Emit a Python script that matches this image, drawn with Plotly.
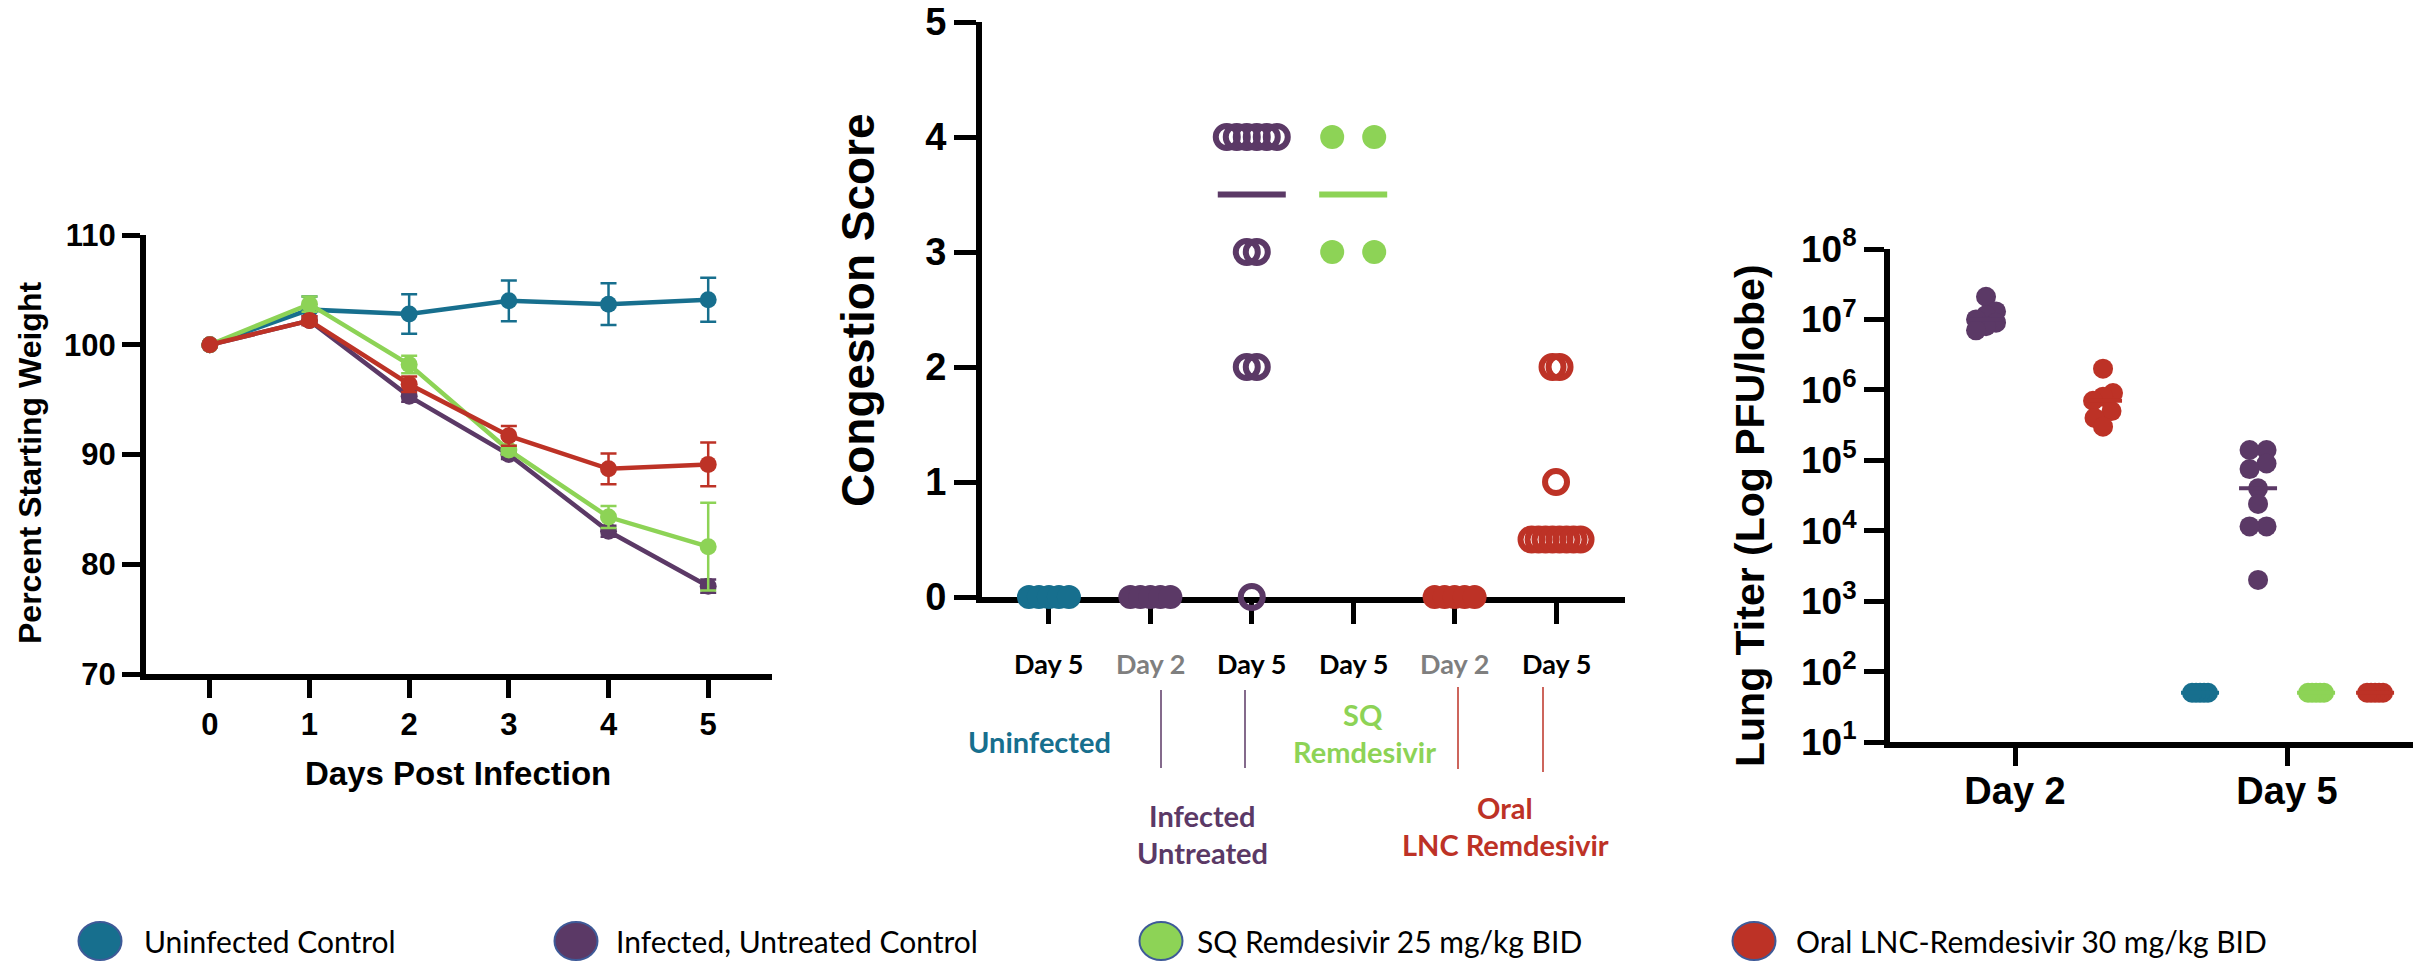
import math
import numpy as np
import plotly.graph_objects as go

W, H = 2431, 963

# ------------------------------------------------------------------ DATA
days = [0, 1, 2, 3, 4, 5]
weight_uninfected = [100, 103.2, 102.8, 104.0, 103.7, 104.1]
weight_uninfected_err = [0, 1.2, 1.8, 1.85, 1.9, 2.0]
weight_infected = [100, 102.2, 95.3, 90.0, 83.0, 78.0]
weight_infected_err = [0, 0.4, 0.5, 0.4, 0.5, 0.6]
weight_sq = [100, 103.7, 98.2, 90.4, 84.3, 81.6]
weight_sq_err = [0, 0.7, 0.8, 0.4, 1.0, 4.0]
weight_oral = [100, 102.2, 96.4, 91.7, 88.7, 89.1]
weight_oral_err = [0, 0.4, 0.7, 0.9, 1.4, 2.0]

weight_ticks = [70, 80, 90, 100, 110]

congestion_day_labels = ["Day 5", "Day 2", "Day 5", "Day 5", "Day 2", "Day 5"]
congestion_group_of_column = ["uninf", "inf", "inf", "sq", "oral", "oral"]
congestion_scores = [
    [0, 0, 0, 0, 0],
    [0, 0, 0, 0, 0],
    [4, 4, 4, 4, 4, 4, 3, 3, 2, 2, 0],
    [4, 4, 3, 3],
    [0, 0, 0, 0, 0],
    [2, 2, 1, 0.5, 0.5, 0.5, 0.5, 0.5, 0.5, 0.5, 0.5],
]
congestion_lines = [None, None, 3.5, 3.5, None, None]
congestion_ticks = [0, 1, 2, 3, 4, 5]

titer_days = ["Day 2", "Day 5"]
titer_uninfected_d5 = [50, 50, 50, 50, 50]
titer_infected_d2 = [2.1e7, 1.3e7, 1.15e7, 1.0e7, 9e6, 8e6, 7e6]
titer_infected_d5 = [1.4e5, 1.4e5, 9e4, 7.5e4, 4e4, 2.4e4, 1.15e4, 1.15e4, 2e3]
titer_sq_d5 = [50, 50, 50, 50, 50]
titer_oral_d2 = [2e6, 9e5, 8e5, 7e5, 5e5, 4e5, 3e5]
titer_oral_d5 = [50, 50, 50, 50, 50]
titer_exponents = [1, 2, 3, 4, 5, 6, 7, 8]

legend_labels = ["Uninfected Control", "Infected, Untreated Control",
                 "SQ Remdesivir 25 mg/kg BID", "Oral LNC-Remdesivir 30 mg/kg BID"]

# ------------------------------------------------------------------ STYLE
C = {"uninf": "#176F8E", "inf": "#5B3966", "sq": "#8DD356", "oral": "#BD3226"}
GRAY = "#7F7F7F"
AX_FONT = "Liberation Sans, Arial, sans-serif"
LBL_FONT = "Lato, Carlito, Calibri, sans-serif"


def px(x):
    return x / W


def py(y):
    return 1 - y / H


fig = go.Figure()

# ------------------------------------------------------------------ PANEL 1
for key, vals, err in [("uninf", weight_uninfected, weight_uninfected_err),
                       ("inf", weight_infected, weight_infected_err),
                       ("sq", weight_sq, weight_sq_err),
                       ("oral", weight_oral, weight_oral_err)]:
    fig.add_trace(go.Scatter(
        x=days, y=vals, mode="lines+markers", xaxis="x", yaxis="y",
        line=dict(color=C[key], width=4.5),
        marker=dict(color=C[key], size=17),
        error_y=dict(type="data", array=err, color=C[key], thickness=2.5, width=8),
        showlegend=False, cliponaxis=False))

# ------------------------------------------------------------------ PANEL 2
UNIT2 = 101.4  # px per category
gap2 = [10, 10, 10, 42, 10, 7]


def spread_same(values, gap_px, unit_px):
    offs = [0.0] * len(values)
    groups = {}
    for i, v in enumerate(values):
        groups.setdefault(v, []).append(i)
    for v, idx in groups.items():
        n = len(idx)
        for k, i in enumerate(idx):
            offs[i] = (k - (n - 1) / 2) * gap_px / unit_px
    return offs


open_cols = {2, 5}
for ci, vals in enumerate(congestion_scores):
    key = congestion_group_of_column[ci]
    offs = spread_same(vals, gap2[ci], UNIT2)
    xs = [ci + o for o in offs]
    if ci in open_cols:
        marker = dict(symbol="circle-open", size=22, color=C[key],
                      line=dict(color=C[key], width=6))
    else:
        marker = dict(symbol="circle", size=24, color=C[key], line=dict(width=0))
    fig.add_trace(go.Scatter(x=xs, y=vals, mode="markers", xaxis="x2", yaxis="y2",
                             marker=marker, showlegend=False, cliponaxis=False))
    if congestion_lines[ci] is not None:
        hw = 34 / UNIT2
        fig.add_trace(go.Scatter(x=[ci - hw, ci + hw], y=[congestion_lines[ci]] * 2,
                                 mode="lines", xaxis="x2", yaxis="y2",
                                 line=dict(color=C[key], width=6),
                                 showlegend=False, cliponaxis=False))

# ------------------------------------------------------------------ PANEL 3
UNIT3 = 272.0
group_offset_px = {"uninf": -87, "inf": -29, "sq": 29, "oral": 88}


def swarm_rows(values, gap_fn, unit_px, tol=0.12):
    order = sorted(range(len(values)), key=lambda i: -values[i])
    rows = []
    for i in order:
        lv = math.log10(values[i])
        if rows and rows[-1][0] - lv <= tol:
            rows[-1][1].append(i)
        else:
            rows.append([lv, [i]])
    offs = [0.0] * len(values)
    for _, idx in rows:
        n = len(idx)
        g = gap_fn(n)
        for k, i in enumerate(idx):
            offs[i] = ((n - 1) / 2 - k) * g / unit_px
    return offs


def titer_gap(n):
    return 17 if n == 2 else 10


titer_sets = [
    (0, "inf", titer_infected_d2, titer_gap),
    (0, "oral", titer_oral_d2, titer_gap),
    (1, "uninf", titer_uninfected_d5, lambda n: 4),
    (1, "inf", titer_infected_d5, titer_gap),
    (1, "sq", titer_sq_d5, lambda n: 4),
    (1, "oral", titer_oral_d5, lambda n: 4),
]
for day_i, key, vals, gfn in titer_sets:
    center = day_i + group_offset_px[key] / UNIT3
    offs = swarm_rows(vals, gfn, UNIT3)
    fig.add_trace(go.Scatter(x=[center + o for o in offs], y=vals, mode="markers",
                             xaxis="x3", yaxis="y3",
                             marker=dict(color=C[key], size=20, line=dict(width=0)),
                             showlegend=False, cliponaxis=False))
    med = float(np.median(vals))
    hw = 19 / UNIT3
    fig.add_trace(go.Scatter(x=[center - hw, center + hw], y=[med, med], mode="lines",
                             xaxis="x3", yaxis="y3",
                             line=dict(color=C[key], width=4),
                             showlegend=False, cliponaxis=False))

# ------------------------------------------------------------------ AXES
axis_common = dict(showline=True, linecolor="black", linewidth=6, ticks="outside",
                   tickcolor="black", tickwidth=5, showgrid=False, zeroline=False,
                   fixedrange=True, automargin=False)
tickfont_bold = lambda s: dict(family=AX_FONT, size=s, color="black", weight="bold")

layout = dict(
    width=W, height=H, margin=dict(l=0, r=0, t=0, b=0, autoexpand=False), autosize=False,
    paper_bgcolor="white", plot_bgcolor="white", showlegend=False,
    # panel 1
    xaxis=dict(domain=[px(146), px(772)], range=[-0.64, 5.64], anchor="y",
               tickvals=days, ticklen=18, tickfont=tickfont_bold(31), **axis_common),
    yaxis=dict(domain=[py(674), py(235)], range=[70, 110], anchor="x",
               tickvals=weight_ticks, ticklen=18, tickfont=tickfont_bold(31), **axis_common),
    # panel 2
    xaxis2=dict(domain=[px(982), px(1625)], range=[-0.66, 5.68], anchor="y2",
                tickvals=list(range(6)), showticklabels=False, ticklen=21,
                layer="below traces", **axis_common),
    yaxis2=dict(domain=[py(597), py(22)], range=[0, 5], anchor="x2",
                tickvals=congestion_ticks, ticklen=22, tickfont=tickfont_bold(38),
                layer="below traces", **axis_common),
    # panel 3
    xaxis3=dict(domain=[px(1890), px(2413)], range=[-0.4596, 1.463], anchor="y3",
                tickvals=[0, 1], ticktext=titer_days, ticklen=18, ticklabelstandoff=-8,
                tickfont=tickfont_bold(38), **axis_common),
    yaxis3=dict(domain=[py(742), py(249)], type="log", range=[1, 8], anchor="x3",
                tickvals=[10 ** e for e in titer_exponents],
                ticktext=["10<sup>%d</sup>" % e for e in titer_exponents],
                ticklen=20, tickfont=tickfont_bold(37), **axis_common),
)
fig.update_layout(**layout)

ann = []
shapes = []


def text(x, y, s, size, color="black", family=AX_FONT, bold=True, angle=0,
         xanchor="center", xref="paper"):
    ann.append(dict(x=x, y=y, xref=xref, yref="paper", text=s, showarrow=False,
                    textangle=angle, xanchor=xanchor, yanchor="middle",
                    font=dict(family=family, size=size, color=color,
                              weight="bold" if bold else "normal")))


# axis titles
text(px(30), py(463), "Percent Starting Weight", 32, angle=-90)
text(px(458), py(773), "Days Post Infection", 33)
text(px(858), py(310), "Congestion Score", 46, angle=-90)
text(px(1750), py(516), "Lung Titer (Log PFU/lobe)", 41, angle=-90)

# panel 2 category labels
for ci, lab in enumerate(congestion_day_labels):
    text(ci, py(663), lab, 27, color=GRAY if lab == "Day 2" else "black",
         family=LBL_FONT, xref="x2")

# panel 2 group labels
text(px(1039), py(741), "Uninfected", 29, color=C["uninf"], family=LBL_FONT)
text(px(1202), py(815), "Infected", 29, color=C["inf"], family=LBL_FONT)
text(px(1202), py(852), "Untreated", 29, color=C["inf"], family=LBL_FONT)
text(px(1363), py(714), "SQ", 29, color=C["sq"], family=LBL_FONT)
text(px(1364), py(751), "Remdesivir", 29, color=C["sq"], family=LBL_FONT)
text(px(1505), py(807), "Oral", 29, color=C["oral"], family=LBL_FONT)
text(px(1505), py(844), "LNC Remdesivir", 29, color=C["oral"], family=LBL_FONT)

# divider lines
for xline, col, y0, y1 in [(1161, C["inf"], 690, 768), (1245, C["inf"], 690, 768),
                           (1458, C["oral"], 687, 769), (1543, C["oral"], 687, 772)]:
    shapes.append(dict(type="line", xref="paper", yref="paper", x0=px(xline), x1=px(xline),
                       y0=py(y0), y1=py(y1), line=dict(color=col, width=1.5)))

# legend
legend_marker_x = [100, 576, 1161, 1754]
legend_text_x = [142, 614, 1195, 1794]
for key, lab, mx, tx in zip(["uninf", "inf", "sq", "oral"], legend_labels,
                            legend_marker_x, legend_text_x):
    shapes.append(dict(type="circle", xref="paper", yref="paper",
                       x0=px(mx - 21.5), x1=px(mx + 21.5), y0=py(941 + 19), y1=py(941 - 19),
                       fillcolor=C[key], line=dict(color="#3E5A98", width=2)))
    text(px(tx), py(941), lab, 30, family=LBL_FONT, bold=False, xanchor="left")

fig.update_layout(annotations=ann, shapes=shapes)

fig.write_html("out.html", include_plotlyjs=True, config={"staticPlot": True},
               post_script="document.body.style.margin='0px';")
